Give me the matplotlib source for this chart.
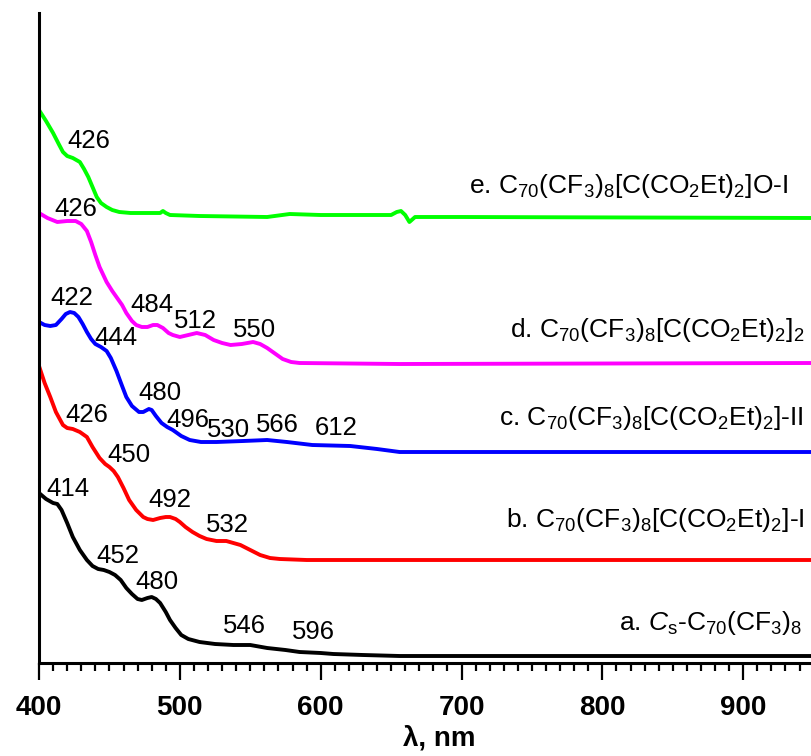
import matplotlib
matplotlib.use("Agg")
import matplotlib.pyplot as plt
from matplotlib.ticker import MultipleLocator

plt.rcParams['font.family'] = ['Liberation Sans', 'DejaVu Sans']
plt.rcParams['mathtext.fontset'] = 'custom'
plt.rcParams['mathtext.rm'] = 'Liberation Sans'
plt.rcParams['mathtext.it'] = 'Liberation Sans:italic'
plt.rcParams['mathtext.bf'] = 'Liberation Sans:bold'

# --- spectra (wavelength nm, absorbance with stacking offset) ---
wl_a = [400, 405, 410, 413, 416, 420, 424, 429, 434, 438, 442, 446, 450, 454, 458,
        462, 466, 470, 473, 477, 480, 483, 486, 490, 493, 497, 501, 506, 514, 525,
        538, 550, 562, 575, 585, 600, 609, 630, 656, 950]
abs_a = [1.70, 1.64, 1.60, 1.59, 1.53, 1.40, 1.26, 1.13, 1.03, 0.97, 0.94, 0.93, 0.91,
         0.88, 0.83, 0.75, 0.69, 0.64, 0.63, 0.65, 0.66, 0.64, 0.60, 0.51, 0.43, 0.35,
         0.28, 0.24, 0.21, 0.19, 0.18, 0.18, 0.15, 0.13, 0.11, 0.10, 0.09, 0.08, 0.07,
         0.07]

wl_b = [400, 404, 408, 412, 417, 420, 424, 429, 434, 438, 443, 447, 450, 453, 456,
        460, 464, 469, 474, 477, 481, 486, 490, 493, 497, 500, 504, 509, 514, 519,
        526, 533, 538, 543, 550, 557, 564, 571, 590, 950]
abs_b = [2.97, 2.80, 2.66, 2.51, 2.38, 2.35, 2.34, 2.31, 2.26, 2.16, 2.05, 1.99, 1.96,
         1.92, 1.86, 1.75, 1.63, 1.53, 1.46, 1.44, 1.43, 1.45, 1.46, 1.46, 1.44, 1.41,
         1.36, 1.31, 1.27, 1.24, 1.22, 1.22, 1.20, 1.18, 1.13, 1.08, 1.05, 1.04, 1.03,
         1.03]

wl_c = [400, 404, 408, 412, 416, 419, 422, 425, 428, 431, 434, 437, 440, 444, 448,
        451, 455, 459, 462, 466, 471, 474, 478, 480, 483, 487, 491, 495, 501, 507,
        515, 526, 545, 562, 576, 594, 621, 640, 656, 950]
abs_c = [3.41, 3.38, 3.37, 3.38, 3.44, 3.49, 3.51, 3.50, 3.46, 3.39, 3.31, 3.24, 3.19,
         3.16, 3.12, 3.05, 2.92, 2.77, 2.66, 2.57, 2.51, 2.51, 2.54, 2.53, 2.47, 2.40,
         2.36, 2.33, 2.27, 2.23, 2.21, 2.21, 2.22, 2.23, 2.21, 2.18, 2.17, 2.14, 2.11,
         2.11]

wl_d = [400, 406, 413, 420, 426, 430, 434, 437, 440, 443, 448, 452, 455, 459, 462,
        466, 469, 473, 477, 481, 484, 488, 492, 495, 500, 506, 512, 518, 524, 530,
        536, 544, 552, 557, 562, 568, 573, 579, 585, 656, 950]
abs_d = [4.50, 4.45, 4.41, 4.42, 4.42, 4.39, 4.32, 4.21, 4.08, 3.96, 3.81, 3.72, 3.66,
         3.58, 3.50, 3.42, 3.38, 3.36, 3.36, 3.38, 3.38, 3.35, 3.30, 3.28, 3.26, 3.28,
         3.30, 3.28, 3.23, 3.20, 3.18, 3.19, 3.21, 3.19, 3.15, 3.09, 3.04, 3.01, 3.00,
         2.99, 3.00]

wl_e = [400, 405, 410, 414, 417, 420, 424, 429, 432, 435, 438, 441, 444, 448, 452,
        457, 465, 474, 486, 488, 490, 493, 514, 562, 570, 578, 600, 650, 654, 657,
        660, 663, 667, 700, 950]
abs_e = [5.53, 5.42, 5.30, 5.19, 5.11, 5.07, 5.05, 5.01, 4.94, 4.86, 4.76, 4.66, 4.60,
         4.56, 4.53, 4.51, 4.50, 4.50, 4.50, 4.52, 4.50, 4.48, 4.47, 4.46, 4.475, 4.49,
         4.48, 4.48, 4.51, 4.52, 4.48, 4.41, 4.46, 4.46, 4.45]

colors = ['black', '#ff0000', '#0000ff', '#ff00ff', '#00ff00']

# curve names
names = [
    r'a. $\mathit{C}_\mathrm{s}$-C$_\mathrm{70}$(CF$_\mathrm{3}$)$_\mathrm{8}$',
    r'b. C$_\mathrm{70}$(CF$_\mathrm{3}$)$_\mathrm{8}$[C(CO$_\mathrm{2}$Et)$_\mathrm{2}$]-I',
    r'c. C$_\mathrm{70}$(CF$_\mathrm{3}$)$_\mathrm{8}$[C(CO$_\mathrm{2}$Et)$_\mathrm{2}$]-II',
    r'd. C$_\mathrm{70}$(CF$_\mathrm{3}$)$_\mathrm{8}$[C(CO$_\mathrm{2}$Et)$_\mathrm{2}$]$_\mathrm{2}$',
    r'e. C$_\mathrm{70}$(CF$_\mathrm{3}$)$_\mathrm{8}$[C(CO$_\mathrm{2}$Et)$_\mathrm{2}$]O-I',
]
name_x = [941.7, 943.8, 942.3, 943.8, 931.7]
name_y = [0.33, 1.36, 2.38, 3.26, 4.70]

# band maxima labels
peak_txt = ['414', '452', '480', '546', '596',
            '426', '450', '492', '532',
            '422', '444', '480', '496', '530', '566', '612',
            '426', '484', '512', '550',
            '426']
peak_x = [420.4, 455.9, 483.6, 546.0, 595.0,
          433.9, 463.7, 492.8, 534.0,
          423.2, 454.5, 485.7, 505.5, 534.7, 569.5, 610.7,
          426.0, 480.0, 511.3, 553.2,
          435.3]
peak_y = [1.67, 1.00, 0.74, 0.30, 0.24,
          2.41, 2.01, 1.56, 1.31,
          3.58, 3.18, 2.63, 2.36, 2.26, 2.31, 2.28,
          4.47, 3.51, 3.35, 3.26,
          5.15]

fig = plt.figure(figsize=(8.12, 7.56), dpi=100)
ax = fig.add_axes([39 / 812, 93 / 756, 800 / 812, 650 / 756])

spectra = [(wl_a, abs_a), (wl_b, abs_b), (wl_c, abs_c), (wl_d, abs_d), (wl_e, abs_e)]
for (wl, ab), c in zip(spectra, colors):
    ax.plot(wl, ab, color=c, lw=2.8, solid_joinstyle='round', solid_capstyle='round')

for t, x, y in zip(names, name_x, name_y):
    ax.text(x, y, t, ha='right', va='baseline', fontsize=19)

for t, x, y in zip(peak_txt, peak_x, peak_y):
    ax.text(x, y, t, ha='center', va='baseline', fontsize=18.5)

ax.set_xlim(400, 968)
ax.set_ylim(0, 6.5)
ax.xaxis.set_major_locator(MultipleLocator(100))
ax.xaxis.set_minor_locator(MultipleLocator(10))
ax.set_yticks([])
for s in ['top', 'right']:
    ax.spines[s].set_visible(False)
for s in ['left', 'bottom']:
    ax.spines[s].set_linewidth(2.2)
ax.tick_params(axis='x', which='major', direction='out', length=12, width=1.6, pad=11,
               labelsize=20)
ax.tick_params(axis='x', which='minor', direction='out', length=6, width=1.6)
for lab in ax.get_xticklabels():
    lab.set_fontweight('bold')
ax.set_xlabel(r'λ, nm', fontsize=20, fontweight='bold', labelpad=3)

fig.savefig('out.png', dpi=100)
